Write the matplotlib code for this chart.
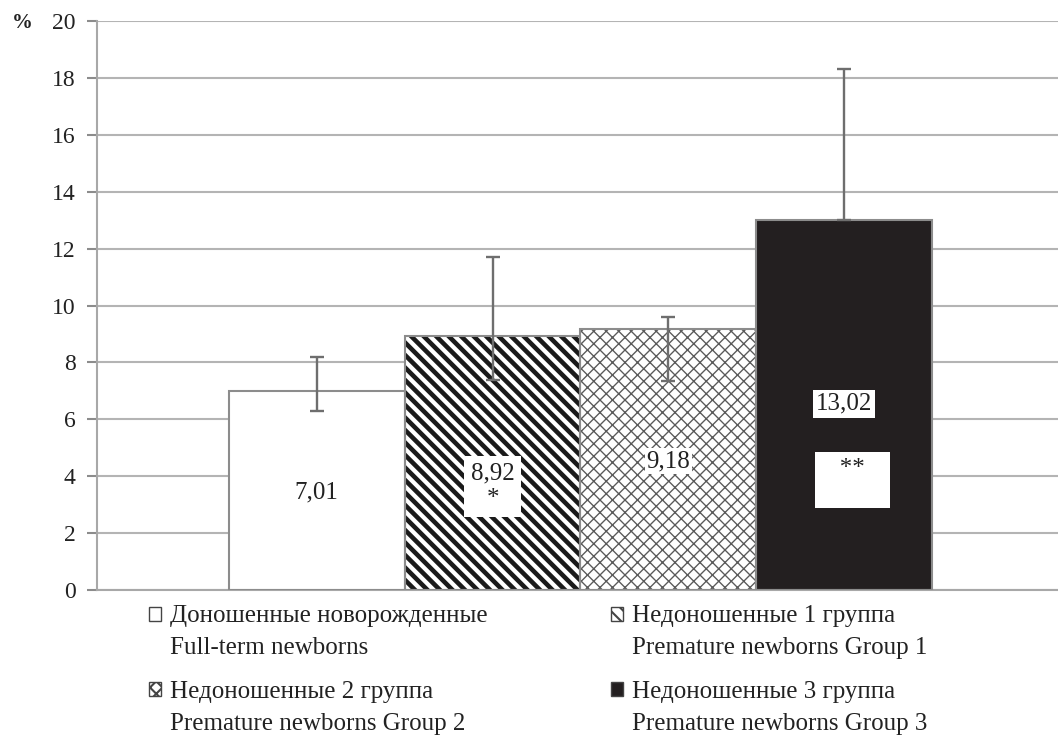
import matplotlib
matplotlib.use("Agg")
import matplotlib.pyplot as plt
import numpy as np
from matplotlib.patches import Rectangle
from matplotlib.legend_handler import HandlerPatch

# ---------------- data ----------------
groups_ru = ["Доношенные новорожденные", "Недоношенные 1 группа",
             "Недоношенные 2 группа", "Недоношенные 3 группа"]
groups_en = ["Full-term newborns", "Premature newborns Group 1",
             "Premature newborns Group 2", "Premature newborns Group 3"]
values = [7.01, 8.92, 9.18, 13.02]
err_lower_bound = [6.29, 7.38, 7.33, 13.02]
err_upper_bound = [8.19, 11.72, 9.60, 18.30]
value_labels = ["7,01", "8,92", "9,18", "13,02"]
significance = ["", "*", "", "**"]
yticks = [0, 2, 4, 6, 8, 10, 12, 14, 16, 18, 20]

# ---------------- style ----------------
DPI = 150
def P(v):
    """convert a size tuned for 100 dpi into points at the working dpi"""
    return v * 100.0 / DPI

SERIF = ["Liberation Serif", "DejaVu Serif"]
plt.rcParams["font.family"] = SERIF
GRID = "#b4b4b4"
EDGE = "#8c8c8c"
ERR = "#6e6e6e"
TXT = "#222222"

faces = ["white", "white", "white", "#231f20"]
hatches = [None, "\\" * 4, "xxxx", None]
hatch_colors = [EDGE, "#1a1a1a", "#5a5a5a", "#231f20"]
hatch_lw = [1.0, 2.2, 0.65, 1.0]

fig = plt.figure(figsize=(1058 / DPI, 736 / DPI), dpi=DPI)
ax = fig.add_axes([97 / 1058, 1 - 590 / 736, 1 - 97 / 1058, (590 - 21) / 736])

x = np.arange(len(values))
for i in range(len(values)):
    b = ax.bar(x[i], values[i], width=1.0, color=faces[i], hatch=hatches[i],
               edgecolor=hatch_colors[i], linewidth=0, zorder=2)
    for p in b:
        if hatches[i] and hasattr(p, "set_hatch_linewidth"):
            p.set_hatch_linewidth(hatch_lw[i])
ax.bar(x, values, width=1.0, fill=False, edgecolor=EDGE, linewidth=P(1.5), zorder=3)

lower = [v - lo for v, lo in zip(values, err_lower_bound)]
upper = [hi - v for v, hi in zip(values, err_upper_bound)]
ax.errorbar(x, values, yerr=[lower, upper], fmt="none", ecolor=ERR,
            elinewidth=P(1.7), capsize=P(4.8), capthick=P(1.7), zorder=4)

# value labels (label positions are layout, not data)
FS_VAL = P(18)
label_y = [3.44, 3.65, 4.52, 6.54]
ax.text(x[0], label_y[0], value_labels[0], ha="center", va="center",
        fontsize=FS_VAL, color=TXT, zorder=5)
ax.text(x[1], label_y[1], value_labels[1] + "\n" + significance[1],
        ha="center", va="center", fontsize=FS_VAL, color=TXT, zorder=5,
        linespacing=1.25,
        bbox=dict(boxstyle="square,pad=0.25", facecolor="white", edgecolor="none"))
ax.text(x[2], label_y[2], value_labels[2], ha="center", va="center",
        fontsize=FS_VAL, color=TXT, zorder=5,
        bbox=dict(boxstyle="square,pad=0.08", facecolor="white", edgecolor="none"))
ax.text(x[3], label_y[3], value_labels[3], ha="center", va="center",
        fontsize=FS_VAL, color=TXT, zorder=5,
        bbox=dict(boxstyle="square,pad=0.12", facecolor="white", edgecolor="none"))
ax.text(x[3] + 0.045, 3.86, "   " + significance[3] + "   \n ", ha="center",
        va="center", fontsize=FS_VAL, color=TXT, zorder=5, linespacing=1.0,
        bbox=dict(boxstyle="square,pad=0.25", facecolor="white", edgecolor="none"))

ax.set_xlim(-1.25, 4.216)
ax.set_ylim(0, 20)
ax.set_yticks(yticks)
ax.set_yticklabels([str(t) for t in yticks])
ax.set_xticks([])
ax.tick_params(axis="y", length=P(7), width=P(1.5), color=EDGE, labelsize=P(17),
               pad=P(8.5), labelcolor=TXT)
ax.yaxis.grid(True, color=GRID, linewidth=P(1.5))
ax.set_axisbelow(True)
for s in ["top", "right"]:
    ax.spines[s].set_visible(False)
for s in ["left", "bottom"]:
    ax.spines[s].set_color("#a8a8a8")
    ax.spines[s].set_linewidth(P(1.5))

fig.text(22 / 1058, 1 - 23 / 736, "%", ha="center", va="center",
         fontsize=P(15), fontweight="bold", color=TXT)


# ---------------- legend ----------------
class TopHandler(HandlerPatch):
    def __init__(self, shift, **kw):
        super().__init__(**kw)
        self.shift = shift

    def create_artists(self, legend, orig_handle, xdescent, ydescent, width,
                       height, fontsize, trans):
        p = Rectangle((-xdescent, -ydescent + self.shift), width, height)
        self.update_prop(p, orig_handle, legend)
        p.set_transform(trans)
        return [p]


handles = []
for i in range(len(values)):
    handles.append(Rectangle((0, 0), 1, 1, facecolor=faces[i], hatch=hatches[i],
                             edgecolor="#444444", linewidth=P(1.0)))
labels = [ru + "\n" + en for ru, en in zip(groups_ru, groups_en)]
order = [0, 2, 1, 3]
leg = fig.legend([handles[k] for k in order], [labels[k] for k in order],
                 ncol=2, loc="upper left",
                 bbox_to_anchor=(149 / 1058, 1 - 605 / 736),
                 frameon=False, fontsize=P(18), handlelength=0.48,
                 handleheight=0.48, handletextpad=0.38, columnspacing=4.9,
                 labelspacing=0.86, borderpad=0, borderaxespad=0,
                 handler_map={Rectangle: TopHandler(shift=P(13.0))})
for t in leg.get_texts():
    t.set_color(TXT)
    t.set_linespacing(1.6)

fig.savefig("out.png", dpi=DPI)
